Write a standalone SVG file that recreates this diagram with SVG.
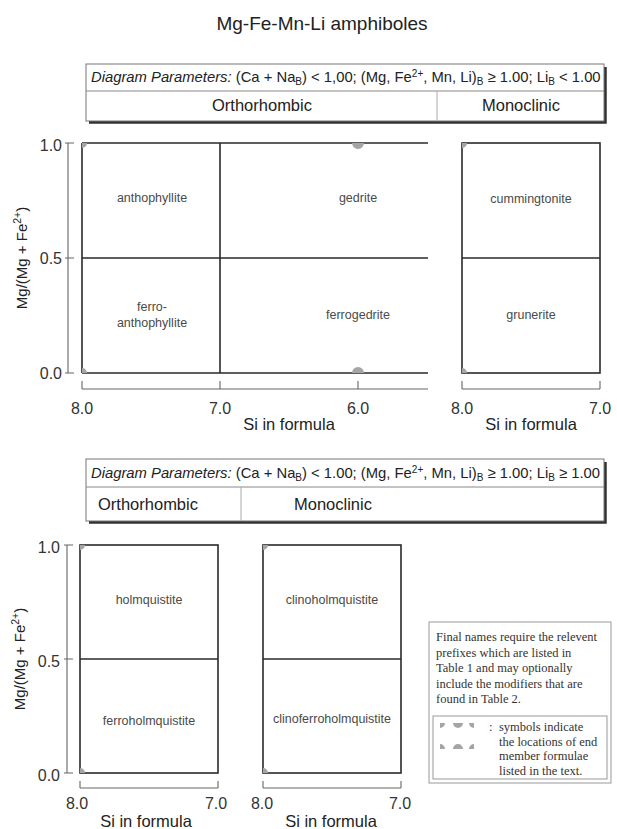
<svg xmlns="http://www.w3.org/2000/svg" width="617" height="829" viewBox="0 0 617 829">
<style>
text{font-family:"Liberation Sans",Arial,sans-serif;fill:#222}
.title{font-size:19px;text-anchor:middle}
.param{font-size:14.8px}
.it{font-style:italic}
.sys{font-size:16.5px;text-anchor:middle}
.tick{font-size:16px;fill:#333}
.tl{text-anchor:end}
.tc{text-anchor:middle}
.axt{font-size:16.5px;text-anchor:middle}
.yt{font-size:15px;text-anchor:middle}
.reg{font-size:12.5px;fill:#4a4a4a;text-anchor:middle}
.frame{fill:none;stroke:#2a2a2a;stroke-width:1.6}
.axis{fill:none;stroke:#666;stroke-width:1.1}
.box{fill:#fff;stroke:#777;stroke-width:1}
.shadow{fill:none;stroke:#333;stroke-width:2.5}
.div{stroke:#888;stroke-width:1}
.vdiv{stroke:#aaa;stroke-width:1}
.sym{fill:#a5a5a5}
.leg{font-family:"Liberation Serif","Times New Roman",serif;font-size:12.5px;fill:#333}
</style>

<text class="title" x="322" y="30">Mg-Fe-Mn-Li amphiboles</text>

<g id="params-top">
  <rect class="box" x="86" y="64" width="518" height="57"/>
  <polyline class="shadow" points="89,122.5 605.5,122.5 605.5,67"/>
  <line class="div" x1="86" y1="91" x2="604" y2="91"/>
  <line class="vdiv" x1="437" y1="91" x2="437" y2="121"/>
  <text class="param" x="91" y="82"><tspan class="it">Diagram Parameters:</tspan> (Ca + Na<tspan font-size="10" dy="3">B</tspan><tspan dy="-3">) &lt; 1,00; (Mg, Fe</tspan><tspan font-size="10" dy="-5">2+</tspan><tspan dy="5">, Mn, Li)</tspan><tspan font-size="10" dy="3">B</tspan><tspan dy="-3"> ≥ 1.00;  Li</tspan><tspan font-size="10" dy="3">B</tspan><tspan dy="-3"> &lt; 1.00</tspan></text>
  <text class="sys" x="262" y="111">Orthorhombic</text>
  <text class="sys" x="521" y="111">Monoclinic</text>
</g>

<g id="plot-ortho-1">
  <path class="frame" d="M82,143 H428 M82,258 H428 M82,373 H428 M82,143 V373 M220,143 V373"/>
  <path class="sym" d="M82,143 h5 a5,5 0 0 1 -5,5 z M82,373 v-5 a5,5 0 0 1 5,5 z M352,143 a6,6 0 0 0 12,0 z M352,373 a6,6 0 0 1 12,0 z"/>
  <text class="reg" x="152" y="202">anthophyllite</text>
  <text class="reg" x="152" y="311">ferro-</text>
  <text class="reg" x="152" y="327">anthophyllite</text>
  <text class="reg" x="358" y="202">gedrite</text>
  <text class="reg" x="358" y="319">ferrogedrite</text>
</g>

<g id="plot-mono-1">
  <rect class="frame" x="462" y="143" width="138" height="230"/>
  <line class="frame" x1="462" y1="258" x2="600" y2="258"/>
  <path class="sym" d="M462,143 h5 a5,5 0 0 1 -5,5 z M462,373 v-5 a5,5 0 0 1 5,5 z"/>
  <text class="reg" x="531" y="203">cummingtonite</text>
  <text class="reg" x="531" y="319">grunerite</text>
</g>

<g id="axes-1">
  <path class="axis" d="M68,143 V373 M65,143 H74 M65,258 H74 M65,373 H74"/>
  <text class="tick tl" x="62" y="151">1.0</text>
  <text class="tick tl" x="62" y="264">0.5</text>
  <text class="tick tl" x="62" y="379">0.0</text>
  <text class="yt" transform="translate(27,258) rotate(-90)">Mg/(Mg + Fe<tspan font-size="10.5" dy="-6">2+</tspan><tspan dy="6">)</tspan></text>
  <path class="axis" d="M82,389 H428 M82,381 V389 M220,381 V389 M358,381 V389"/>
  <text class="tick tc" x="82" y="414">8.0</text>
  <text class="tick tc" x="220" y="414">7.0</text>
  <text class="tick tc" x="358" y="414">6.0</text>
  <text class="axt" x="289" y="430">Si in formula</text>
  <path class="axis" d="M462,389 H600 M462,381 V389 M600,381 V389"/>
  <text class="tick tc" x="462" y="414">8.0</text>
  <text class="tick tc" x="600" y="414">7.0</text>
  <text class="axt" x="531" y="430">Si in formula</text>
</g>

<g id="params-bottom">
  <rect class="box" x="86" y="459" width="518" height="62"/>
  <polyline class="shadow" points="89,522.5 605.5,522.5 605.5,462"/>
  <line class="div" x1="86" y1="487" x2="604" y2="487"/>
  <line class="vdiv" x1="241" y1="487" x2="241" y2="521"/>
  <text class="param" x="91" y="478"><tspan class="it">Diagram Parameters:</tspan> (Ca + Na<tspan font-size="10" dy="3">B</tspan><tspan dy="-3">) &lt; 1.00; (Mg, Fe</tspan><tspan font-size="10" dy="-5">2+</tspan><tspan dy="5">, Mn, Li)</tspan><tspan font-size="10" dy="3">B</tspan><tspan dy="-3"> ≥ 1.00;  Li</tspan><tspan font-size="10" dy="3">B</tspan><tspan dy="-3"> ≥ 1.00</tspan></text>
  <text class="sys" x="148" y="510">Orthorhombic</text>
  <text class="sys" x="333" y="510">Monoclinic</text>
</g>

<g id="plot-ortho-2">
  <rect class="frame" x="80" y="545" width="138" height="228"/>
  <line class="frame" x1="80" y1="659" x2="218" y2="659"/>
  <path class="sym" d="M80,545 h5 a5,5 0 0 1 -5,5 z M80,773 v-5 a5,5 0 0 1 5,5 z"/>
  <text class="reg" x="149" y="604">holmquistite</text>
  <text class="reg" x="149" y="725">ferroholmquistite</text>
</g>

<g id="plot-mono-2">
  <rect class="frame" x="263" y="545" width="138" height="228"/>
  <line class="frame" x1="263" y1="659" x2="401" y2="659"/>
  <path class="sym" d="M263,545 h5 a5,5 0 0 1 -5,5 z M263,773 v-5 a5,5 0 0 1 5,5 z"/>
  <text class="reg" x="332" y="604">clinoholmquistite</text>
  <text class="reg" x="332" y="723">clinoferroholmquistite</text>
</g>

<g id="axes-2">
  <path class="axis" d="M67,545 V773 M64,545 H73 M64,659 H73 M64,773 H73"/>
  <text class="tick tl" x="60" y="553">1.0</text>
  <text class="tick tl" x="60" y="667">0.5</text>
  <text class="tick tl" x="60" y="781">0.0</text>
  <text class="yt" transform="translate(25,659) rotate(-90)">Mg/(Mg + Fe<tspan font-size="10.5" dy="-6">2+</tspan><tspan dy="6">)</tspan></text>
  <path class="axis" d="M80,788 H218 M80,781 V788 M218,781 V788"/>
  <path class="axis" d="M263,788 H401 M263,781 V788 M401,781 V788"/>
  <text class="tick tc" x="77" y="809">8.0</text>
  <text class="tick tc" x="216" y="809">7.0</text>
  <text class="tick tc" x="262" y="809">8.0</text>
  <text class="tick tc" x="400" y="809">7.0</text>
  <text class="axt" x="146" y="827">Si in formula</text>
  <text class="axt" x="331" y="827">Si in formula</text>
</g>

<g id="legend">
  <rect x="429" y="622" width="182" height="161" fill="#fff" stroke="#999" stroke-width="1"/>
  <text class="leg" x="436" y="641">Final names require the relevent</text>
  <text class="leg" x="436" y="656.5">prefixes which are listed in</text>
  <text class="leg" x="436" y="672">Table 1 and may optionally</text>
  <text class="leg" x="436" y="687.5">include the modifiers that are</text>
  <text class="leg" x="436" y="703">found in Table 2.</text>
  <rect x="433" y="716" width="174" height="63" fill="none" stroke="#999" stroke-width="1"/>
  <path class="sym" d="M440,723 h5 a5,5 0 0 1 -5,5 z M453,723 a5,5 0 0 0 10,0 z M474,723 h-5 a5,5 0 0 0 5,5 z M440,749 v-5 a5,5 0 0 1 5,5 z M453,749 a5,5 0 0 1 10,0 z M474,749 h-5 a5,5 0 0 1 5,-5 z"/>
  <text class="leg" x="489" y="731">:</text>
  <text class="leg" x="499" y="731">symbols indicate</text>
  <text class="leg" x="499" y="745.5">the locations of end</text>
  <text class="leg" x="499" y="760">member formulae</text>
  <text class="leg" x="499" y="774.5">listed in the text.</text>
</g>
</svg>
